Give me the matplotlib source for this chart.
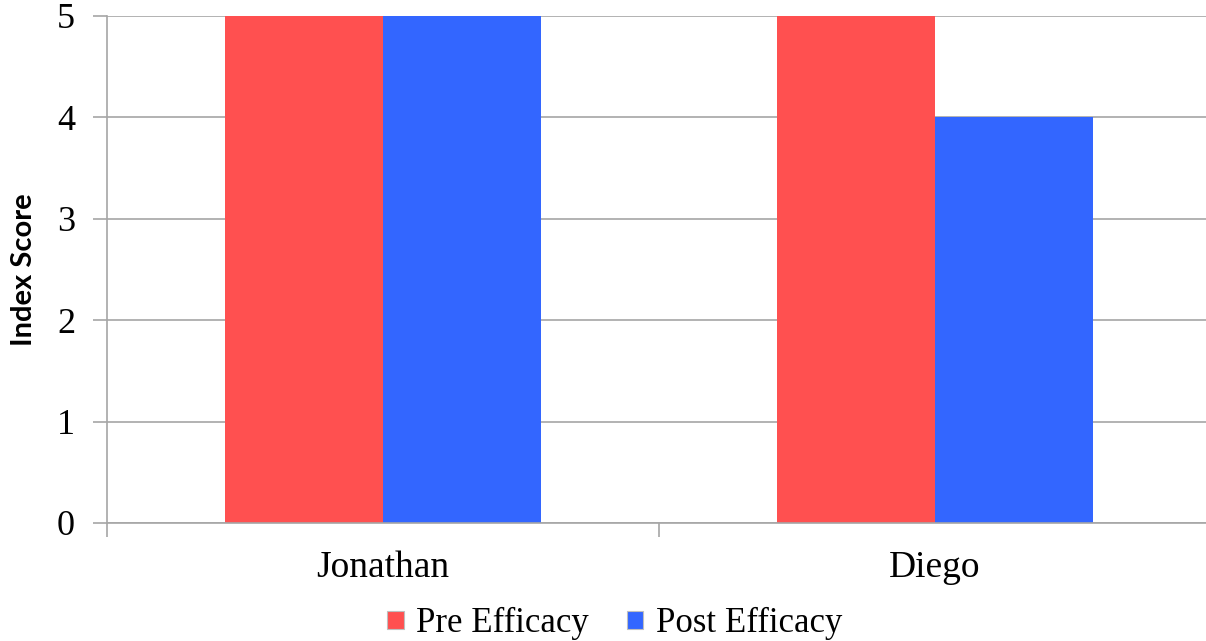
"""Grouped bar chart: pre/post efficacy index scores."""

import matplotlib

matplotlib.use("Agg")

import matplotlib.pyplot as plt
import numpy as np

students = ["Jonathan", "Diego"]
pre_efficacy = [5, 5]
post_efficacy = [5, 4]
y_ticks = [0, 1, 2, 3, 4, 5]

RED = "#FF5050"
BLUE = "#3366FF"
GRID = "#A6A6A6"
SERIF = ["Liberation Serif", "DejaVu Serif"]


def main(output_path: str = "out.png") -> None:
    fig = plt.figure(figsize=(12.06, 6.41), dpi=100)
    # axis runs slightly past the right edge like the original
    ax = fig.add_axes([0.0887, 0.1841, 0.9154, 0.791])

    x = np.arange(len(students))
    width = 1 / 3.5
    ax.bar(x - width / 2, pre_efficacy, width, color=RED, label="Pre Efficacy",
           zorder=3)
    ax.bar(x + width / 2, post_efficacy, width, color=BLUE, label="Post Efficacy",
           zorder=3)

    ax.set_xlim(-0.5, len(students) - 0.5)
    ax.set_ylim(0, 5)
    ax.set_yticks(y_ticks)
    ax.set_yticklabels([str(t) for t in y_ticks], family=SERIF, fontsize=26)
    ax.yaxis.grid(True, color=GRID, linewidth=1.2, zorder=0)

    # category labels centred, tick marks at category boundaries
    ax.set_xticks(x)
    ax.set_xticklabels(students, family=SERIF, fontsize=27)
    ax.tick_params(axis="x", length=0, pad=20)
    ax.set_xticks(np.arange(len(students)) - 0.5, minor=True)
    ax.tick_params(axis="x", which="minor", length=10, width=1.2, color=GRID)
    ax.tick_params(axis="y", length=10, width=1.2, color=GRID, pad=13)

    for side in ("top", "right"):
        ax.spines[side].set_visible(False)
    for side in ("left", "bottom"):
        ax.spines[side].set_color(GRID)
        ax.spines[side].set_linewidth(1.2)
        ax.spines[side].set_zorder(4)

    fig.text(24 / 1206, 0.5796, "Index Score", family=["Lato", "DejaVu Sans"],
             fontweight="bold", fontsize=21, rotation=90,
             ha="center", va="center")

    leg = fig.legend(loc="center", bbox_to_anchor=(0.5095, 0.027), ncol=2,
                     frameon=False, prop={"family": SERIF, "size": 25},
                     handlelength=0.48, handleheight=0.42, handletextpad=0.35,
                     columnspacing=1.1, borderpad=0, borderaxespad=0)
    for h in leg.legend_handles:
        h.set_edgecolor("#BFBFBF")
        h.set_linewidth(0.8)

    fig.savefig(output_path, dpi=100)
    plt.close(fig)


if __name__ == "__main__":
    main()
